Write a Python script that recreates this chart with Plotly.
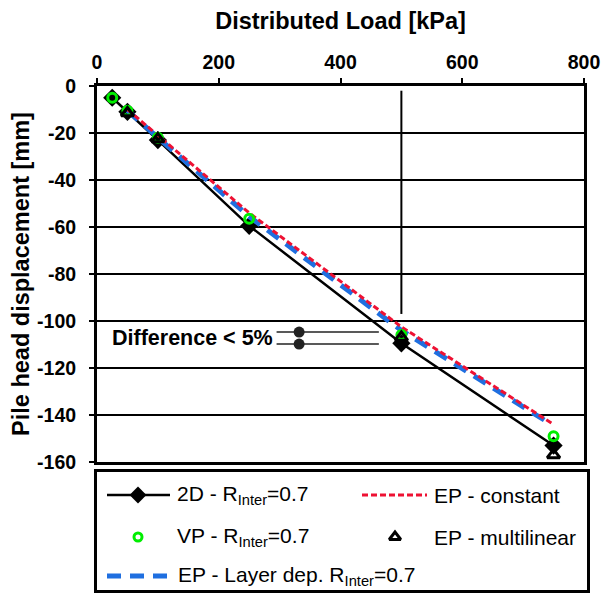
import plotly.graph_objects as go

# Data
load_2d = [25, 50, 100, 250, 500, 750]
disp_2d = [-5, -11, -23, -59.5, -109.5, -153]

load_vp = [25, 50, 100, 250, 500, 750]
disp_vp = [-5, -10.5, -22, -56.5, -106, -149]

load_multi = [50, 100, 500, 750]
disp_multi = [-11.5, -22.5, -107, -157]

load_const = [50, 100, 250, 500, 750]
disp_const = [-10, -21, -54, -102.5, -144]

load_layer = [50, 100, 250, 500, 740]
disp_layer = [-10.5, -22, -55.5, -104, -143]

diff_x = [332, 332]
diff_y = [-104.7, -109.8]

y_tickvals = [0, -20, -40, -60, -80, -100, -120, -140, -160]
y_ticktext = ["0", "-20", "-40", "-60", "-80", "-100", "-120", "-140", "-160"]
x_tickvals = [0, 200, 400, 600, 800]
x_ticktext = ["0", "200", "400", "600", "800"]

names = ["2D - R<sub>Inter</sub>=0.7", "EP - constant", "VP - R<sub>Inter</sub>=0.7",
         "EP - multilinear", "EP - Layer dep. R<sub>Inter</sub>=0.7"]

FONT = "Liberation Sans, Arial, sans-serif"
RED = "#ee1133"
BLUE = "#1f6fe0"
GREEN = "#00ee00"

st_2d = dict(line=dict(color="black", width=2.5), marker=dict(symbol="diamond", size=14, color="black"))
st_const = dict(line=dict(color=RED, width=3, dash="6px,3px"))
st_vp = dict(marker=dict(symbol="circle-open", size=9, color=GREEN, line=dict(width=3, color=GREEN)))
st_multi = dict(marker=dict(symbol="triangle-up-open", size=11, color="black", line=dict(width=3, color="black")))
st_layer = dict(line=dict(color=BLUE, width=5, dash="14px,9px"))

fig = go.Figure()

fig.add_trace(go.Scatter(x=load_2d, y=disp_2d, mode="lines+markers", name=names[0], **st_2d))
fig.add_trace(go.Scatter(x=load_layer, y=disp_layer, mode="lines", name=names[4], **st_layer))
fig.add_trace(go.Scatter(x=load_const, y=disp_const, mode="lines", name=names[1], **st_const))
fig.add_trace(go.Scatter(x=load_vp, y=disp_vp, mode="markers", name=names[2], **st_vp))
fig.add_trace(go.Scatter(x=load_multi, y=disp_multi, mode="markers", name=names[3], **st_multi))

# difference markers
fig.add_trace(go.Scatter(x=diff_x, y=diff_y, mode="markers",
                         marker=dict(symbol="circle", size=11, color="#222222")))
for yy in diff_y:
    fig.add_shape(type="line", x0=295, x1=463, y0=yy, y1=yy,
                  line=dict(color="#222222", width=1.5))
fig.add_shape(type="line", x0=500, x1=500, y0=-2, y1=-97,
              line=dict(color="black", width=2))

fig.add_annotation(x=21, y=-107.2, text="<b>Difference &lt; 5%</b>", showarrow=False,
                   font=dict(family=FONT, size=21.5, color="black"), xanchor="left")
fig.add_annotation(x=500, y=0.5, yref="y", text="<b>500</b>", showarrow=False,
                   yanchor="bottom", font=dict(family=FONT, size=15, color="black"))

# ---- manual legend in its own pixel-like axes (x2/y2) ----
c1_line = [107, 170]
c2_line = [362, 427]
rows = [495, 537, 576]
fig.add_trace(go.Scatter(x=c1_line, y=[rows[0]] * 2, mode="lines", xaxis="x2", yaxis="y2",
                         line=dict(color="black", width=2.5)))
fig.add_trace(go.Scatter(x=[138], y=[rows[0]], mode="markers", xaxis="x2", yaxis="y2",
                         marker=dict(symbol="diamond", size=13, color="black")))
fig.add_trace(go.Scatter(x=c2_line, y=[rows[0]] * 2, mode="lines", xaxis="x2", yaxis="y2", **st_const))
fig.add_trace(go.Scatter(x=[138], y=[rows[1]], mode="markers", xaxis="x2", yaxis="y2",
                         marker=dict(symbol="circle-open", size=8, color=GREEN, line=dict(width=3, color=GREEN))))
fig.add_trace(go.Scatter(x=[395], y=[rows[1]], mode="markers", xaxis="x2", yaxis="y2",
                         marker=dict(symbol="triangle-up-open", size=10, color="black", line=dict(width=3, color="black"))))
fig.add_trace(go.Scatter(x=c1_line, y=[rows[2]] * 2, mode="lines", xaxis="x2", yaxis="y2", **st_layer))

leg_text = [(175, rows[0], names[0]), (432, rows[0], names[1]),
            (175, rows[1], names[2]), (432, rows[1], names[3]),
            (176, rows[2], names[4])]
for tx, ty, tt in leg_text:
    fig.add_annotation(x=tx, y=ty, xref="x2", yref="y2", text=tt, showarrow=False,
                       xanchor="left", yanchor="middle",
                       font=dict(family=FONT, size=21, color="black"))

# The page body has an 8px default margin, so the figure is drawn 8px smaller
# and all layout positions are shifted by that offset.
OFF = 8
W, H = 613 - OFF, 595 - OFF
ml, mr, mt, mb = 97 - OFF, 26, 86 - OFF, 5
plot_w = W - ml - mr
plot_h = H - mt - mb
plot_right = 584 - OFF
plot_bottom = 462 - OFF
leg_top, leg_bottom = 472 - OFF, 590 - OFF

fig.update_layout(
    width=W, height=H,
    margin=dict(l=ml, r=mr, t=mt, b=mb),
    plot_bgcolor="white", paper_bgcolor="white",
    showlegend=False,
    font=dict(family=FONT, size=17, color="black"),
    xaxis=dict(range=[0, 800], side="top", tickvals=x_tickvals, ticktext=x_ticktext,
               showgrid=False, automargin=False,
               domain=[0, (plot_right - ml) / plot_w],
               ticks="outside", ticklen=5, tickwidth=1.5, tickcolor="black",
               ticklabelstandoff=1,
               tickfont=dict(family=FONT, size=19.5, weight="bold"),
               title=dict(text="<b>Distributed Load [kPa]</b>", standoff=22,
                          font=dict(family=FONT, size=23.5)),
               showline=True, linecolor="black", linewidth=3, mirror=True, zeroline=False),
    yaxis=dict(range=[-160, 0], tickvals=y_tickvals, ticktext=y_ticktext,
               showgrid=True, gridcolor="black", gridwidth=1.5,
               automargin=False, domain=[(H - mb - plot_bottom) / plot_h, 1],
               ticks="outside", ticklen=5, tickwidth=1.5, tickcolor="black",
               ticklabelstandoff=9,
               tickfont=dict(family=FONT, size=19.5, weight="bold"),
               title=dict(text="<b>Pile head displacement [mm]</b>", standoff=5,
                          font=dict(family=FONT, size=23.5)),
               showline=True, linecolor="black", linewidth=3, mirror=True, zeroline=False),
    xaxis2=dict(range=[97, 587], domain=[0, 1], anchor="y2",
                showgrid=False, showticklabels=False, ticks="", zeroline=False,
                showline=True, linecolor="black", linewidth=3, mirror=True, automargin=False),
    yaxis2=dict(range=[590, 472], domain=[0, (leg_bottom - leg_top) / plot_h], anchor="x2",
                showgrid=False, showticklabels=False, ticks="", zeroline=False,
                showline=True, linecolor="black", linewidth=3, mirror=True, automargin=False),
)

fig.write_html("out.html")
